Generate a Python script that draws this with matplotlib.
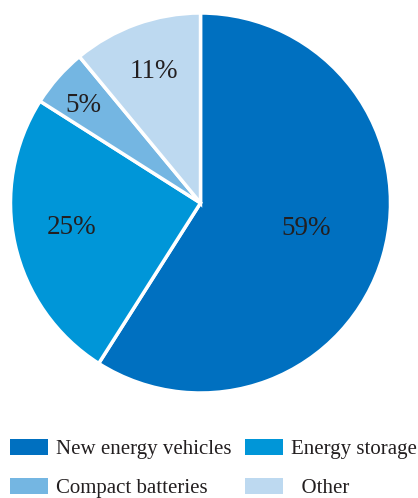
import matplotlib
matplotlib.use("Agg")
import matplotlib.pyplot as plt
import numpy as np

labels = ["New energy vehicles", "Energy storage", "Compact batteries", "  Other"]
shares = [59, 25, 5, 11]
colors = ["#0070C0", "#0096D8", "#74B6E2", "#BDD9F0"]
# percentage label placement: radius fraction and angular nudge (deg) from wedge middle
label_dist = [0.57, 0.69, 0.81, 0.75]
label_nudge = [4.3, -3.2, 0.8, -0.8]

TEXT = "#231F20"
plt.rcParams["font.family"] = ["Liberation Serif", "DejaVu Serif"]

W, H = 418, 498
fig = plt.figure(figsize=(W / 100, H / 100), dpi=100)
ax = fig.add_axes([10 / W, 105 / H, 381 / W, 380 / H])

wedges, _ = ax.pie(shares, colors=colors, startangle=90, counterclock=False,
                   wedgeprops=dict(edgecolor="white", linewidth=2.5))

for w, val, d, nudge in zip(wedges, shares, label_dist, label_nudge):
    ang = np.deg2rad((w.theta1 + w.theta2) / 2 + nudge)
    ax.text(d * np.cos(ang), d * np.sin(ang), f"{val}%", ha="center",
            va="center_baseline", fontsize=19.5, color=TEXT)

ax.set_xlim(-1, 1)
ax.set_ylim(-1, 1)
ax.set_aspect("equal")
ax.axis("off")

# legend fills column by column, so interleave to get two rows of two
order = [0, 2, 1, 3]
leg = fig.legend([wedges[i] for i in order], [labels[i] for i in order],
                 loc="upper left", bbox_to_anchor=(10 / W, 1 - 439 / H),
                 ncol=2, frameon=False, fontsize=15, handlelength=1.83,
                 handleheight=0.77, handletextpad=0.38, columnspacing=0.63,
                 labelspacing=0.92, borderpad=0, borderaxespad=0)
for t in leg.get_texts():
    t.set_color(TEXT)
for p in leg.get_patches():
    p.set_edgecolor("none")

fig.savefig("out.png", dpi=100)
